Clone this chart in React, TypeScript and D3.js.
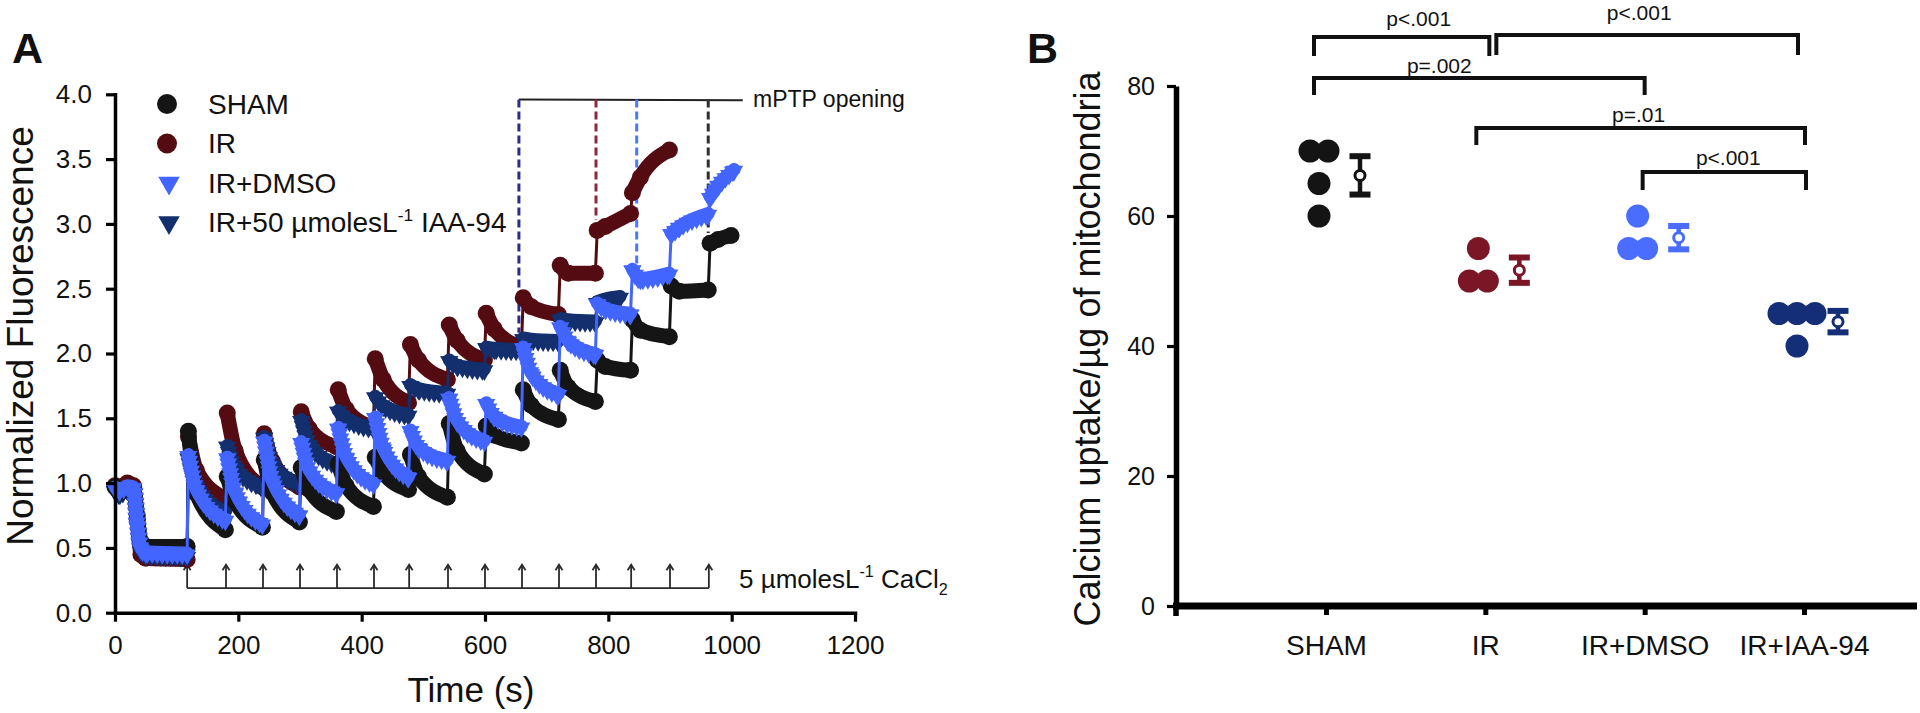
import React, { useEffect, useRef } from "react";
import * as d3 from "d3";

const FONT = '"Liberation Sans", Arial, Helvetica, sans-serif';

// ---------- panel A: calcium retention traces ----------
const addTimes = [117, 180, 240, 300, 360, 420, 477, 540, 600, 660, 720, 780, 837, 900, 963];
const leadTimes = [0, 8, 20, 30, 36, 42, 50, 117];

const shamLead = [0.97, 0.93, 0.96, 0.95, 0.75, 0.55, 0.51, 0.51];
const shamStart = [1.4, 1.05, 1.18, 1.12, 1.15, 1.2, 1.22, 1.46, 1.44, 1.72, 1.87, 1.95, 2.26, 2.52, 2.85];
const shamMid = [0.92, 0.86, 0.93, 0.95, 0.98, 1.08, 1.05, 1.25, 1.37, 1.6, 1.74, 1.9, 2.18, 2.48, 2.88];
const shamEnd = [0.64, 0.66, 0.7, 0.78, 0.82, 0.95, 0.89, 1.07, 1.31, 1.49, 1.63, 1.87, 2.13, 2.49, 2.91];
const shamLast = 1000;

const irLead = [0.98, 0.97, 1.0, 0.98, 0.72, 0.45, 0.42, 0.41];
const irStart = [1.36, 1.54, 1.38, 1.55, 1.72, 1.96, 2.07, 2.22, 2.31, 2.43, 2.68, 2.95, 3.24];
const irMid = [1.1, 1.25, 1.17, 1.42, 1.57, 1.8, 1.95, 2.1, 2.19, 2.36, 2.62, 2.98, 3.36];
const irEnd = [0.88, 0.97, 0.97, 1.28, 1.43, 1.62, 1.8, 1.95, 2.05, 2.3, 2.62, 3.08, 3.57];
const irLast = 900;

const dmsoLead = [0.97, 0.95, 0.98, 0.97, 0.68, 0.5, 0.47, 0.46];
const dmsoStart = [1.22, 1.2, 1.33, 1.32, 1.43, 1.51, 1.41, 1.66, 1.62, 2.05, 2.21, 2.39, 2.65, 2.93, 3.21];
const dmsoMid = [0.95, 0.93, 1.02, 1.1, 1.2, 1.27, 1.28, 1.48, 1.52, 1.85, 2.1, 2.35, 2.58, 2.98, 3.3];
const dmsoEnd = [0.72, 0.69, 0.76, 0.93, 1.0, 1.05, 1.18, 1.33, 1.44, 1.69, 2.0, 2.31, 2.62, 3.08, 3.42];
const dmsoLast = 1005;

const iaaLead = [0.95, 0.92, 0.96, 0.95, 0.7, 0.48, 0.45, 0.44];
const iaaStart = [1.2, 1.29, 1.36, 1.49, 1.56, 1.67, 1.76, 1.95, 2.05, 2.12, 2.27, 2.4];
const iaaMid = [0.98, 1.12, 1.15, 1.3, 1.5, 1.6, 1.73, 1.91, 2.04, 2.11, 2.26, 2.42];
const iaaEnd = [0.78, 0.98, 1.0, 1.15, 1.43, 1.53, 1.7, 1.88, 2.03, 2.1, 2.25, 2.44];
const iaaLast = 820;

const mptpTimes = [655, 780, 846, 962];
const mptpReach = [2.16, 3.03, 2.67, 2.93];
const mptpTop = [3.96, 3.955];
const mptpLineEnd = 1018;

const xTicksA = [0, 200, 400, 600, 800, 1000, 1200];
const yTicksA = [0, 0.5, 1, 1.5, 2, 2.5, 3, 3.5, 4];

// ---------- panel B: calcium uptake ----------
const groupsB = ["SHAM", "IR", "IR+DMSO", "IR+IAA-94"];
const shamPts = [70, 70, 65, 60];
const irPts = [55, 50, 50];
const dmsoPts = [60, 55, 55];
const iaaPts = [45, 45, 45, 40];
const semB = [2.95, 1.95, 1.8, 1.65];
const yTicksB = [0, 20, 40, 60, 80];

const bracketsB = [
  { a: "SHAM", b: "IR", label: "p<.001" },
  { a: "IR", b: "IR+IAA-94", label: "p<.001" },
  { a: "SHAM", b: "IR+DMSO", label: "p=.002" },
  { a: "IR", b: "IR+IAA-94", label: "p=.01" },
  { a: "IR+DMSO", b: "IR+IAA-94", label: "p<.001" },
];
// pixel layout of the brackets (line height, leg length, end nudges, label nudges)
const bracketLayout = [
  { top: 37, leg: 19, dxa: -12, dxb: 4, tdx: 17, tdy: -11 },
  { top: 35, leg: 20, dxa: 11, dxb: -6, tdx: -8, tdy: -15 },
  { top: 78, leg: 17, dxa: -12, dxb: 0, tdx: -40, tdy: -5 },
  { top: 128, leg: 17, dxa: -9, dxb: 1, tdx: -2, tdy: -6 },
  { top: 172, leg: 18, dxa: -2, dxb: 2, tdx: 4, tdy: -7 },
];

const colorsA = { sham: "#151515", ir: "#540c12", dmso: "#4365ff", iaa: "#132f6e" };
const colorsB = ["#141414", "#7a1626", "#4a6cff", "#142f78"];

function superText(sel, parts) {
  // parts: [text, kind] kind = "n" | "sup" | "sub"
  let shift = 0;
  parts.forEach(([t, kind]) => {
    const target = kind === "sup" ? -11 : kind === "sub" ? 7 : 0;
    const ts = sel.append("tspan").attr("dy", target - shift).text(t);
    if (kind !== "n") ts.attr("font-size", "0.62em");
    shift = target;
  });
}

function drawPanelA(svg) {
  const x = d3.scaleLinear().domain([0, 1200]).range([115, 855]);
  const y = d3.scaleLinear().domain([0, 4]).range([612.7, 94.3]);
  const g = svg.append("g").attr("font-family", FONT);

  // CaCl2 additions
  const ann = g.append("g").attr("stroke", "#2a2a2a").attr("fill", "none");
  ann
    .append("line")
    .attr("x1", x(addTimes[0]))
    .attr("x2", x(addTimes[addTimes.length - 1]))
    .attr("y1", y(0.19))
    .attr("y2", y(0.19))
    .attr("stroke-width", 1.8);
  addTimes.forEach((t) => {
    const xx = x(t);
    ann
      .append("line")
      .attr("x1", xx)
      .attr("x2", xx)
      .attr("y1", y(0.19))
      .attr("y2", y(0.37))
      .attr("stroke-width", 1.8);
    ann
      .append("path")
      .attr("d", `M${xx - 3.5},${y(0.37) + 5.5}L${xx},${y(0.37)}L${xx + 3.5},${y(0.37) + 5.5}`)
      .attr("stroke-width", 1.8);
  });
  const ca = g
    .append("text")
    .attr("x", 739)
    .attr("y", y(0.19))
    .attr("font-size", 26)
    .attr("fill", "#111");
  superText(ca, [["5 µmolesL", "n"], ["-1", "sup"], [" CaCl", "n"], ["2", "sub"]]);

  // mPTP opening markers
  g.append("line")
    .attr("x1", x(mptpTimes[0]))
    .attr("x2", x(mptpLineEnd))
    .attr("y1", y(mptpTop[0]))
    .attr("y2", y(mptpTop[1]))
    .attr("stroke", "#222")
    .attr("stroke-width", 2);
  const dashCol = ["#2d2c8c", "#8a2a3c", "#4a78ff", "#2f2f2f"];
  mptpTimes.forEach((t, i) => {
    g.append("line")
      .attr("x1", x(t))
      .attr("x2", x(t))
      .attr("y1", y(mptpTop[0]))
      .attr("y2", y(mptpReach[i]))
      .attr("stroke", dashCol[i])
      .attr("stroke-width", 3)
      .attr("stroke-dasharray", "8,4");
  });
  g.append("text")
    .attr("x", 753)
    .attr("y", 107)
    .attr("font-size", 23)
    .attr("fill", "#111")
    .text("mPTP opening");

  // traces
  const series = [
    { color: colorsA.ir, shape: "circle", lead: irLead, start: irStart, mid: irMid, end: irEnd, last: irLast },
    { color: colorsA.iaa, shape: "tri", lead: iaaLead, start: iaaStart, mid: iaaMid, end: iaaEnd, last: iaaLast },
    { color: colorsA.sham, shape: "circle", lead: shamLead, start: shamStart, mid: shamMid, end: shamEnd, last: shamLast },
    { color: colorsA.dmso, shape: "tri", lead: dmsoLead, start: dmsoStart, mid: dmsoMid, end: dmsoEnd, last: dmsoLast },
  ];
  const tri = d3.symbol().type(d3.symbolTriangle).size(140)();
  const thin = d3
    .line()
    .x((d) => x(d[0]))
    .y((d) => y(d[1]));
  const band = d3
    .line()
    .x((d) => x(d[0]))
    .y((d) => y(d[1]))
    .curve(d3.curveMonotoneX);

  series.forEach((s) => {
    const sg = g.append("g");
    const segs = [
      leadTimes.map((t, i) => [t, s.lead[i]]),
      ...s.start.map((v, i) => {
        const t0 = addTimes[i];
        const t1 = i < s.start.length - 1 ? addTimes[i + 1] : s.last;
        return [
          [t0 + 2, v],
          [t0 + 15, s.mid[i]],
          [t1 - 1, s.end[i]],
        ];
      }),
    ];
    const all = segs.flat();
    sg.append("path")
      .attr("d", thin(all))
      .attr("fill", "none")
      .attr("stroke", s.color)
      .attr("stroke-width", 3);
    segs.forEach((seg) => {
      const p = sg
        .append("path")
        .attr("d", band(seg))
        .attr("fill", "none")
        .attr("stroke", s.color)
        .attr("stroke-width", s.shape === "circle" ? 15 : 13)
        .attr("stroke-linecap", "round")
        .attr("stroke-linejoin", "round");
      if (s.shape === "tri") {
        const node = p.node();
        const len = node.getTotalLength();
        for (let l = 0; l <= len; l += 5) {
          const pt = node.getPointAtLength(l);
          sg.append("path")
            .attr("d", tri)
            .attr("transform", `translate(${pt.x},${pt.y + 1.5}) rotate(180)`)
            .attr("fill", s.color);
        }
      }
    });
    all.forEach((d) => {
      if (s.shape === "circle") {
        sg.append("circle").attr("cx", x(d[0])).attr("cy", y(d[1])).attr("r", 8.5).attr("fill", s.color);
      } else {
        sg.append("path")
          .attr("d", tri)
          .attr("transform", `translate(${x(d[0])},${y(d[1]) + 1.5}) rotate(180)`)
          .attr("fill", s.color);
      }
    });
  });

  // axes
  const xAxis = g
    .append("g")
    .attr("transform", `translate(0,${y(0)})`)
    .call(d3.axisBottom(x).tickValues(xTicksA).tickFormat(d3.format("d")).tickSize(9).tickSizeOuter(0).tickPadding(14));
  const yAxis = g
    .append("g")
    .attr("transform", `translate(${x(0)},0)`)
    .call(d3.axisLeft(y).tickValues(yTicksA).tickFormat(d3.format(".1f")).tickSize(9).tickSizeOuter(0).tickPadding(14));
  [xAxis, yAxis].forEach((a) => {
    a.attr("font-family", FONT).attr("font-size", 26);
    a.select(".domain").attr("stroke", "#000").attr("stroke-width", 3.5).attr("stroke-linecap", "square");
    a.selectAll(".tick line").attr("stroke", "#000").attr("stroke-width", 3.2);
    a.selectAll(".tick text").attr("fill", "#111");
  });

  g.append("text")
    .attr("x", 471)
    .attr("y", 702)
    .attr("text-anchor", "middle")
    .attr("font-size", 35)
    .attr("fill", "#111")
    .text("Time (s)");
  g.append("text")
    .attr("transform", "translate(33,336) rotate(-90)")
    .attr("text-anchor", "middle")
    .attr("font-size", 37)
    .attr("fill", "#111")
    .text("Normalized Fluorescence");
  g.append("text")
    .attr("x", 12)
    .attr("y", 63)
    .attr("font-size", 43)
    .attr("font-weight", "bold")
    .attr("fill", "#111")
    .text("A");

  // legend
  const legend = [
    { color: colorsA.sham, shape: "circle", parts: [["SHAM", "n"]] },
    { color: colorsA.ir, shape: "circle", parts: [["IR", "n"]] },
    { color: colorsA.dmso, shape: "tri", parts: [["IR+DMSO", "n"]] },
    { color: colorsA.iaa, shape: "tri", parts: [["IR+50 µmolesL", "n"], ["-1", "sup"], [" IAA-94", "n"]] },
  ];
  const bigTri = d3.symbol().type(d3.symbolTriangle).size(200)();
  legend.forEach((l, i) => {
    const cy = 104 + i * 39.5;
    if (l.shape === "circle") {
      g.append("circle").attr("cx", 167).attr("cy", cy).attr("r", 10).attr("fill", l.color);
    } else {
      g.append("path").attr("d", bigTri).attr("transform", `translate(169,${cy}) rotate(180)`).attr("fill", l.color);
    }
    const t = g
      .append("text")
      .attr("x", 208)
      .attr("y", cy + 9.5)
      .attr("font-size", 28)
      .attr("fill", "#111");
    superText(t, l.parts);
  });
}

function swarm(vals) {
  const counts = d3.rollup(vals, (v) => v.length, (d) => d);
  const seen = new Map();
  return vals.map((v) => {
    const n = counts.get(v);
    const i = seen.get(v) || 0;
    seen.set(v, i + 1);
    return (i - (n - 1) / 2) * 18;
  });
}

function drawPanelB(svg) {
  const x = d3.scalePoint().domain(groupsB).range([1326, 1804]);
  const y = d3.scaleLinear().domain([0, 80]).range([606, 86]);
  const g = svg.append("g").attr("font-family", FONT);
  const pts = [shamPts, irPts, dmsoPts, iaaPts];

  // y axis
  const yAxis = g
    .append("g")
    .attr("transform", "translate(1176,0)")
    .call(d3.axisLeft(y).tickValues(yTicksB).tickSize(9).tickSizeOuter(0).tickPadding(12));
  yAxis.attr("font-family", FONT).attr("font-size", 25);
  yAxis.select(".domain").attr("stroke", "#000").attr("stroke-width", 5.5);
  yAxis.selectAll(".tick line").attr("stroke", "#000").attr("stroke-width", 3.2);
  yAxis.selectAll(".tick text").attr("fill", "#111");
  g.append("line").attr("x1", 1176).attr("x2", 1176).attr("y1", y(0)).attr("y2", y(0) + 10).attr("stroke", "#000").attr("stroke-width", 5.5);

  // x axis
  const xAxis = g
    .append("g")
    .attr("transform", `translate(0,${y(0)})`)
    .call(d3.axisBottom(x).tickSize(9).tickSizeOuter(0).tickPadding(20));
  xAxis.select(".domain").remove();
  xAxis.attr("font-family", FONT).attr("font-size", 28);
  xAxis.selectAll(".tick line").attr("stroke", "#000").attr("stroke-width", 5);
  xAxis.selectAll(".tick text").attr("fill", "#111");
  g.append("line").attr("x1", 1173).attr("x2", 1917).attr("y1", y(0)).attr("y2", y(0)).attr("stroke", "#000").attr("stroke-width", 7);

  // points and mean ± error
  groupsB.forEach((grp, gi) => {
    const col = colorsB[gi];
    const cx = x(grp);
    const offs = swarm(pts[gi]);
    pts[gi].forEach((v, i) => {
      g.append("circle").attr("cx", cx - 7 + offs[i]).attr("cy", y(v)).attr("r", 11.5).attr("fill", col);
    });
    const m = d3.mean(pts[gi]);
    const mx = cx + 34;
    const e = semB[gi];
    g.append("line").attr("x1", mx).attr("x2", mx).attr("y1", y(m + e)).attr("y2", y(m - e)).attr("stroke", col).attr("stroke-width", 4.5);
    [m + e, m - e].forEach((v) => {
      g.append("line")
        .attr("x1", mx - 10.5)
        .attr("x2", mx + 10.5)
        .attr("y1", y(v))
        .attr("y2", y(v))
        .attr("stroke", col)
        .attr("stroke-width", 6);
    });
    g.append("circle").attr("cx", mx).attr("cy", y(m)).attr("r", 5).attr("fill", "#fff").attr("stroke", col).attr("stroke-width", 3);
  });

  // significance brackets
  bracketsB.forEach((b, i) => {
    const L = bracketLayout[i];
    const xa = x(b.a) + L.dxa;
    const xb = x(b.b) + L.dxb;
    g.append("path")
      .attr("d", `M${xa},${L.top + L.leg}V${L.top}H${xb}V${L.top + L.leg}`)
      .attr("fill", "none")
      .attr("stroke", "#111")
      .attr("stroke-width", 4);
    g.append("text")
      .attr("x", (xa + xb) / 2 + L.tdx)
      .attr("y", L.top + L.tdy)
      .attr("text-anchor", "middle")
      .attr("font-size", 21)
      .attr("fill", "#111")
      .text(b.label);
  });

  g.append("text")
    .attr("transform", "translate(1100,349) rotate(-90)")
    .attr("text-anchor", "middle")
    .attr("font-size", 36)
    .attr("fill", "#111")
    .text("Calcium uptake/µg of mitochondria");
  g.append("text")
    .attr("x", 1027)
    .attr("y", 63)
    .attr("font-size", 43)
    .attr("font-weight", "bold")
    .attr("fill", "#111")
    .text("B");
}

export default function App() {
  const ref = useRef(null);

  useEffect(() => {
    const svg = d3.select(ref.current);
    svg.selectAll("*").remove();
    drawPanelA(svg);
    drawPanelB(svg);
  }, []);

  return (
    <svg
      ref={ref}
      width={1920}
      height={713}
      style={{ position: "absolute", left: 0, top: 0, background: "#fff", display: "block" }}
    />
  );
}
